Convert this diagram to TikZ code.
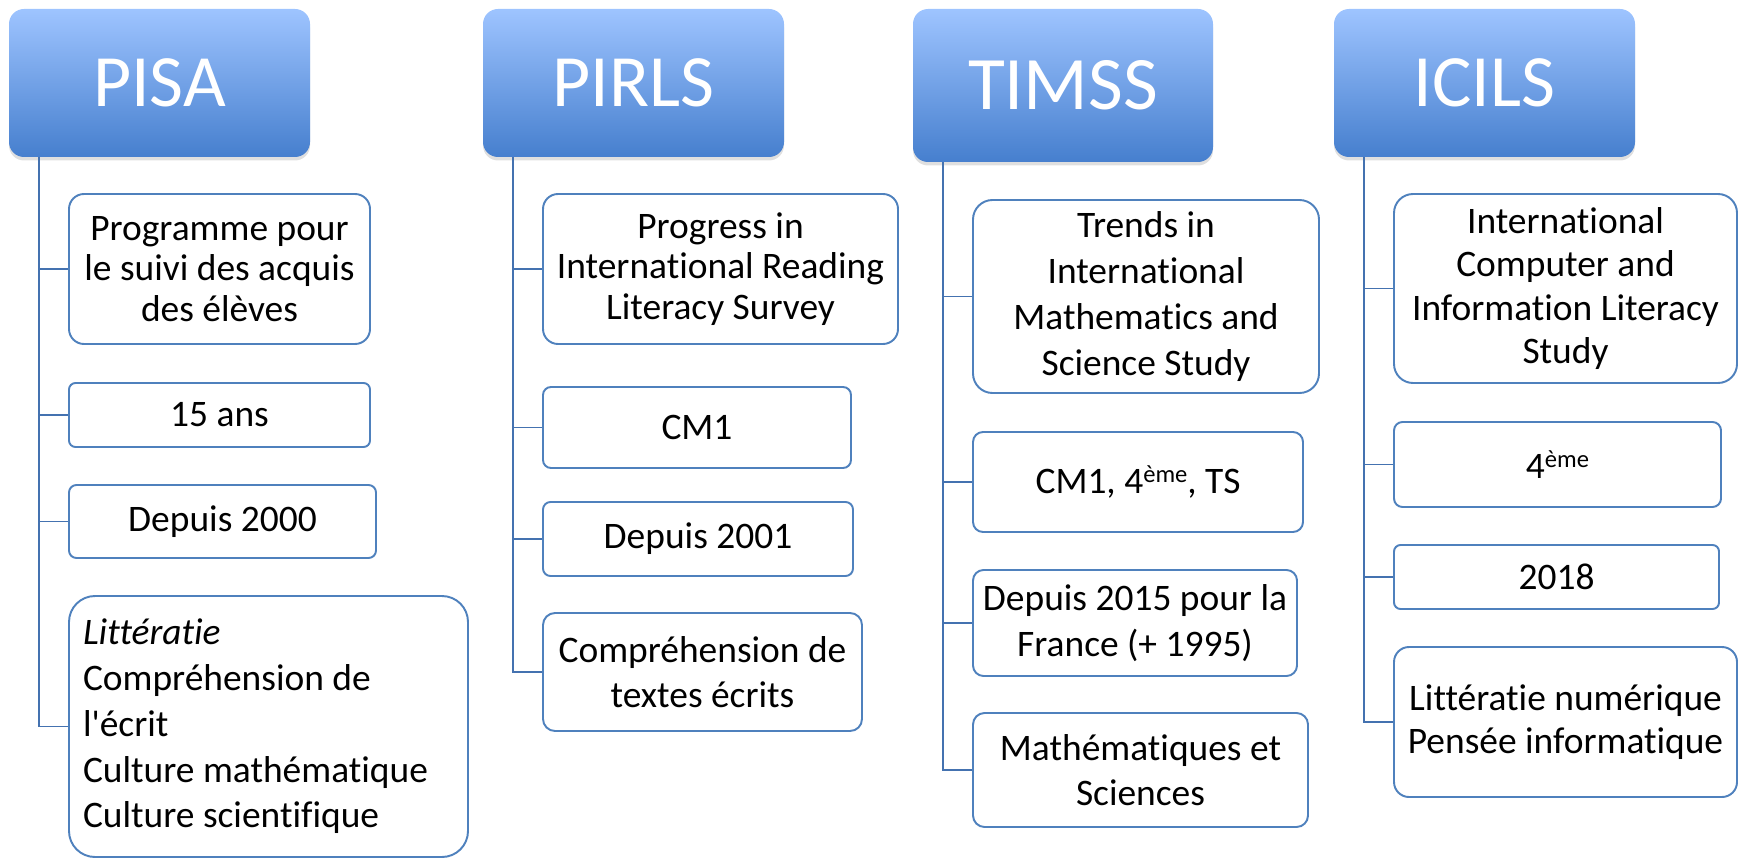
\documentclass[tikz,border=0pt]{standalone}
\usepackage{fontspec}
\setmainfont{Carlito}[Ligatures=NoCommon]
\usepackage{tikz}
\usetikzlibrary{calc, positioning, shadows}

\definecolor{boxblue}{RGB}{79,129,189}
\definecolor{trunkblue}{RGB}{68,114,176}
\definecolor{headtop}{RGB}{158,196,255}
\definecolor{headbot}{RGB}{70,127,206}

\newcommand{\eme}{\raisebox{6.5pt}{\fontsize{14}{14}\selectfont ème}}

\tikzset{
  head/.style={rounded corners=0.3cm, top color=headtop, bottom color=headbot,
    text=white, font=\fontsize{42}{50}\selectfont, inner sep=0pt,
    drop shadow={opacity=0.25, shadow xshift=0pt, shadow yshift=-0.07cm}},
  box/.style={draw=boxblue, line width=1.1pt, fill=white, align=center,
    inner sep=0pt, font=\fontsize{21.3}{23}\selectfont},
  loose/.style={font=\fontsize{21.3}{26}\selectfont},
  trunk/.style={draw=trunkblue, line width=1.1pt}
}

\begin{document}
\begin{tikzpicture}
\useasboundingbox (0,0) rectangle (34.76,-17.18);

% headers
\node[head, minimum width=6.02cm, minimum height=2.96cm] (pisa)  at (3.19,-1.66)  {PISA};
\node[head, minimum width=6.02cm, minimum height=2.96cm] (pirls) at (12.67,-1.66) {PIRLS};
\node[head, minimum width=6.00cm, minimum height=3.06cm, font=\fontsize{43}{50}\selectfont] (timss) at (21.26,-1.71) {TIMSS};
\node[head, minimum width=6.02cm, minimum height=2.96cm] (icils) at (29.69,-1.66) {ICILS};

% PISA column
\node[box, rounded corners=0.3cm, minimum width=6.02cm, minimum height=3.00cm] (pisa1) at (4.39,-5.38) {Programme pour\\le suivi des acquis\\des élèves};
\node[box, rounded corners=0.13cm, minimum width=6.02cm, minimum height=1.28cm] (pisa2) at (4.39,-8.30) {15 ans};
\node[box, rounded corners=0.15cm, minimum width=6.14cm, minimum height=1.46cm] (pisa3) at (4.45,-10.43) {Depuis 2000};
\node[box, loose, rounded corners=0.52cm, minimum width=7.98cm, minimum height=5.22cm,
  align=flush left, text width=7.42cm, inner xsep=0.28cm] (pisa4) at (5.37,-14.53)
  {\textit{Littératie}\\Compréhension de\\l\textquotesingle écrit\\Culture mathématique\\Culture scientifique};

% PIRLS column
\node[box, rounded corners=0.3cm, minimum width=7.10cm, minimum height=3.00cm] (pirls1) at (14.41,-5.38) {Progress in\\International Reading\\Literacy Survey};
\node[box, rounded corners=0.16cm, minimum width=6.16cm, minimum height=1.62cm] (pirls2) at (13.94,-8.55) {CM1};
\node[box, rounded corners=0.15cm, minimum width=6.20cm, minimum height=1.48cm] (pirls3) at (13.96,-10.78) {Depuis 2001};
\node[box, loose, rounded corners=0.24cm, minimum width=6.38cm, minimum height=2.36cm] (pirls4) at (14.05,-13.44) {Compréhension de\\textes écrits};

% TIMSS column
\node[box, loose, rounded corners=0.39cm, minimum width=6.92cm, minimum height=3.86cm] (timss1) at (22.92,-5.93) {Trends in\\International\\Mathematics and\\Science Study};
\node[box, rounded corners=0.2cm, minimum width=6.60cm, minimum height=2.00cm] (timss2) at (22.76,-9.64) {CM1, 4\eme, TS};
\node[box, loose, rounded corners=0.21cm, minimum width=6.48cm, minimum height=2.12cm] (timss3) at (22.70,-12.46) {Depuis 2015 pour la\\France (+ 1995)};
\node[box, loose, rounded corners=0.23cm, minimum width=6.70cm, minimum height=2.28cm] (timss4) at (22.81,-15.40) {Mathématiques et\\Sciences};

% ICILS column
\node[box, loose, rounded corners=0.38cm, minimum width=6.86cm, minimum height=3.78cm, font=\fontsize{21.3}{24.5}\selectfont] (icils1) at (31.31,-5.77) {International\\Computer and\\Information Literacy\\Study};
\node[box, rounded corners=0.17cm, minimum width=6.54cm, minimum height=1.70cm] (icils2) at (31.15,-9.29) {4\eme};
\node[box, rounded corners=0.13cm, minimum width=6.50cm, minimum height=1.28cm] (icils3) at (31.13,-11.54) {2018};
\node[box, rounded corners=0.3cm, minimum width=6.86cm, minimum height=3.00cm, font=\fontsize{21.3}{24.5}\selectfont] (icils4) at (31.31,-14.44) {Littératie numérique\\Pensée informatique};

% connectors
\foreach \h in {pisa, pirls, timss, icils}
  \foreach \i in {1,...,4}
    \draw[trunk] (\h.south west) ++(0.6,0) |- (\h\i.west);

\end{tikzpicture}
\end{document}
